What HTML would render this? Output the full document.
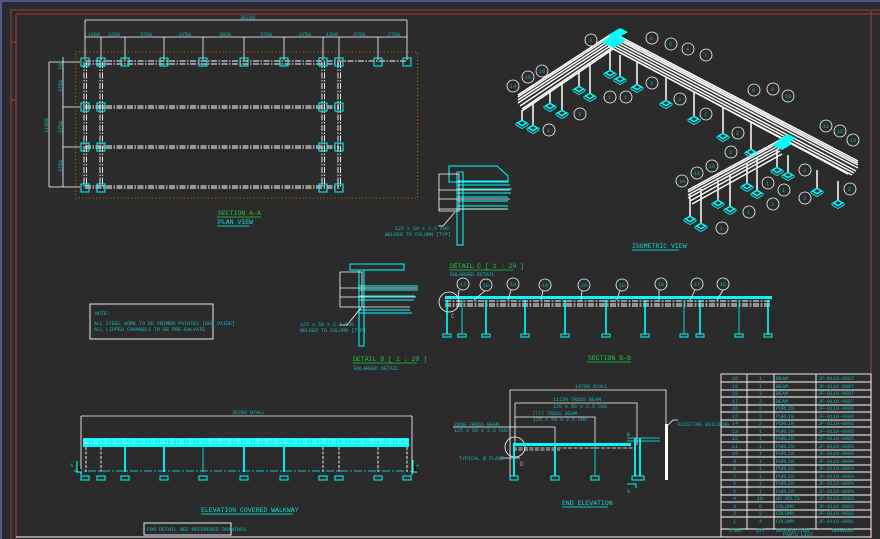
<!DOCTYPE html>
<html><head><meta charset="utf-8"><style>
html,body{margin:0;padding:0;background:#2b2b2b;}
svg{display:block}
text{font-family:"Liberation Mono",monospace;}
.t{fill:#16b8b8;font-size:5px}
.g{fill:#22cc44;font-size:6.5px}
.c{fill:#16d8d8;font-size:6.5px}
</style></head><body>
<svg width="880" height="539" viewBox="0 0 880 539" xmlns="http://www.w3.org/2000/svg">
<defs>
<g id="ft"><path d="M-6 0L0-3.5L6 0L0 3.5Z" fill="#0ff"/><path d="M-6 2L0 5.5L6 2M-6 0V2M6 0V2" stroke="#0ff" stroke-width="0.9" fill="none"/><path d="M-3 0L0-1.7L3 0L0 1.7Z" fill="#2b2b2b"/></g>
</defs>
<rect width="880" height="539" fill="#2b2b2b"/>
<rect x="0" y="0" width="880" height="2" fill="#4a5a8a"/>
<rect x="0" y="0" width="2" height="539" fill="#4a5a8a"/>
<g stroke="#8a3c3c" stroke-width="1.3" fill="none">
<line x1="10" y1="10" x2="880" y2="10"/><line x1="16" y1="14" x2="880" y2="14"/>
<line x1="11" y1="10" x2="11" y2="539"/><line x1="16" y1="14" x2="16" y2="539"/>
<line x1="871" y1="10" x2="871" y2="539"/>
<line x1="11" y1="42" x2="16" y2="42"/><line x1="11" y1="100" x2="16" y2="100"/>
</g>
<line x1="16" y1="537" x2="871" y2="537" stroke="#fff" stroke-width="1"/>

<!-- PLAN VIEW -->
<g stroke="#fff" stroke-width="0.8" fill="none">
<line x1="85" y1="20" x2="407" y2="20"/><line x1="85" y1="20" x2="85" y2="60"/><line x1="407" y1="20" x2="407" y2="60"/>
<line x1="85" y1="37" x2="407" y2="37"/>
<path d="M101 37V60M125 37V60M164 37V60M203 37V60M244 37V60M284 37V60M323 37V60M339 37V60M378 37V60"/>
<line x1="49" y1="62" x2="49" y2="187"/><line x1="63" y1="57" x2="63" y2="187"/>
<path d="M49 62H80M49 187H80M63 107H80M63 147H80"/>
</g>
<rect x="75.7" y="52" width="342" height="146" fill="none" stroke="#e08a20" stroke-width="0.8" stroke-dasharray="1 2.5"/>
<g stroke="#fff" stroke-width="0.9" fill="none" stroke-dasharray="6 1.5 1.5 1.5">
<path d="M85 61H407M85 64H339M85 106H339M85 108H339M85 146H339M85 148H339M85 186H339M85 188H339"/>
<path d="M84 62V187M86.5 62V187M100 62V187M102.5 62V187M322 62V187M324.5 62V187M338 62V187M340.5 62V187"/>
</g>
<g stroke="#0ff" stroke-width="1" fill="none">
<rect x="81" y="58" width="8" height="8"/><rect x="97" y="58" width="8" height="8"/><rect x="121" y="58" width="8" height="8"/><rect x="160" y="58" width="8" height="8"/><rect x="199" y="58" width="8" height="8"/><rect x="240" y="58" width="8" height="8"/><rect x="280" y="58" width="8" height="8"/><rect x="319" y="58" width="8" height="8"/><rect x="335" y="58" width="8" height="8"/><rect x="374" y="58" width="8" height="8"/><rect x="403" y="58" width="8" height="8"/>
<rect x="81" y="103" width="8" height="8"/><rect x="97" y="103" width="8" height="8"/><rect x="319" y="103" width="8" height="8"/><rect x="335" y="103" width="8" height="8"/>
<rect x="81" y="143" width="8" height="8"/><rect x="97" y="143" width="8" height="8"/><rect x="319" y="143" width="8" height="8"/><rect x="335" y="143" width="8" height="8"/>
<rect x="81" y="184" width="8" height="8"/><rect x="97" y="184" width="8" height="8"/><rect x="319" y="184" width="8" height="8"/><rect x="335" y="184" width="8" height="8"/>
</g>
<g class="t">
<text x="240" y="19">36700</text>
<text x="88" y="36">1500</text><text x="108" y="36">2250</text><text x="140" y="36">3750</text><text x="179" y="36">3750</text><text x="219" y="36">3950</text><text x="260" y="36">3750</text><text x="299" y="36">3750</text><text x="326" y="36">1500</text><text x="353" y="36">3750</text><text x="388" y="36">2750</text>
<text transform="translate(62,70) rotate(-90)">700</text><text transform="translate(62,92) rotate(-90)">3750</text><text transform="translate(62,133) rotate(-90)">3750</text><text transform="translate(62,172) rotate(-90)">3750</text><text transform="translate(48,133) rotate(-90)">11950</text>
</g>
<text x="218" y="215" class="g">SECTION A-A</text><line x1="217" y1="217" x2="261" y2="217" stroke="#22cc44" stroke-width="0.8"/>
<text x="218" y="224" class="c">PLAN VIEW</text><line x1="217" y1="226" x2="249" y2="226" stroke="#0ff" stroke-width="0.8"/>

<!-- ISOMETRIC -->
<g stroke="#fff" stroke-width="1.5" fill="none">
<path d="M613 33L858 161M613 35L858 163M613 37L858 165M613 40L858 168M613 43L856 171M613 46L854 173M613 49L852 175M608 46L848 174"/>
<path d="M613 33L518 95M613 35L518 97M613 38L518 100M613 41L518 103M613 44L520 106M613 47L522 109M613 49L522 111"/>
<path d="M780 140L688 190M780 142L688 192M780 145L688 195M780 148L688 198M780 151L690 201M782 154L692 204"/>
<path d="M610 50V73M620 55V79M637 62V87M666 78V103M694 92V119M723 107V136M751 121V152M579 70V89M590 64V96M550 90V106M562 82V113M522 110V123M533 103V128M777 150V170M788 155V175M817 170V191M838 181V203M747 163V186M757 158V193M718 180V203M730 174V209M690 195V219M701 189V226"/>
</g>
<g>
<use href="#ft" x="610" y="73"/><use href="#ft" x="620" y="79"/><use href="#ft" x="637" y="87"/><use href="#ft" x="666" y="103"/><use href="#ft" x="694" y="119"/><use href="#ft" x="723" y="136"/><use href="#ft" x="751" y="152"/><use href="#ft" x="579" y="89"/><use href="#ft" x="590" y="96"/><use href="#ft" x="550" y="106"/><use href="#ft" x="562" y="113"/><use href="#ft" x="522" y="123"/><use href="#ft" x="533" y="128"/><use href="#ft" x="777" y="170"/><use href="#ft" x="788" y="175"/><use href="#ft" x="817" y="191"/><use href="#ft" x="838" y="203"/><use href="#ft" x="747" y="186"/><use href="#ft" x="757" y="193"/><use href="#ft" x="718" y="203"/><use href="#ft" x="730" y="209"/><use href="#ft" x="690" y="219"/><use href="#ft" x="701" y="226"/>
</g>
<g fill="#0ff">
<path d="M602 42l12-8l12 6l-12 8z"/><path d="M608 35l12-7l8 4l-12 7z"/><path d="M772 145l10-6l10 5l-10 6z"/><path d="M778 140l10-6l8 4l-10 6z"/>
</g>
<g stroke="#fff" stroke-width="0.8" fill="#2b2b2b">
<circle cx="591" cy="40" r="6"/><circle cx="652" cy="38" r="6"/><circle cx="671" cy="44" r="6"/><circle cx="688" cy="49" r="6"/><circle cx="706" cy="55" r="6"/><circle cx="652" cy="83" r="6"/><circle cx="626" cy="97" r="6"/><circle cx="610" cy="97" r="6"/><circle cx="580" cy="114" r="6"/><circle cx="549" cy="130" r="6"/><circle cx="542" cy="71" r="6"/><circle cx="528" cy="77" r="6"/><circle cx="513" cy="86" r="6"/><circle cx="680" cy="99" r="6"/><circle cx="706" cy="114" r="6"/><circle cx="738" cy="133" r="6"/><circle cx="731" cy="152" r="6"/><circle cx="754" cy="90" r="6"/><circle cx="773" cy="89" r="6"/><circle cx="788" cy="96" r="6"/><circle cx="826" cy="126" r="6"/><circle cx="840" cy="131" r="6"/><circle cx="853" cy="140" r="6"/><circle cx="805" cy="170" r="6"/><circle cx="784" cy="190" r="6"/><circle cx="768" cy="183" r="6"/><circle cx="805" cy="198" r="6"/><circle cx="850" cy="189" r="6"/><circle cx="773" cy="204" r="6"/><circle cx="749" cy="212" r="6"/><circle cx="722" cy="228" r="6"/><circle cx="712" cy="166" r="6"/><circle cx="697" cy="173" r="6"/><circle cx="682" cy="181" r="6"/>
</g>
<g class="t" font-size="4"><text x="589" y="42">3</text><text x="650" y="40">6</text><text x="669" y="46">5</text><text x="686" y="51">4</text><text x="704" y="57">7</text><text x="650" y="85">3</text><text x="624" y="99">1</text><text x="608" y="99">1</text><text x="578" y="116">3</text><text x="547" y="132">1</text><text x="539" y="73">16</text><text x="525" y="79">15</text><text x="510" y="88">14</text><text x="678" y="101">3</text><text x="704" y="116">2</text><text x="736" y="135">2</text><text x="729" y="154">3</text><text x="752" y="92">8</text><text x="771" y="91">9</text><text x="785" y="98">10</text><text x="823" y="128">11</text><text x="837" y="133">12</text><text x="850" y="142">13</text><text x="803" y="172">3</text><text x="782" y="192">1</text><text x="766" y="185">1</text><text x="803" y="200">3</text><text x="848" y="191">2</text><text x="771" y="206">3</text><text x="747" y="214">1</text><text x="720" y="230">1</text><text x="709" y="168">16</text><text x="694" y="175">15</text><text x="679" y="183">14</text></g>
<text x="632" y="248" class="c">ISOMETRIC VIEW</text><line x1="632" y1="250" x2="679" y2="250" stroke="#0ff" stroke-width="0.8"/>

<!-- upper detail -->
<g stroke="#0ff" stroke-width="1" fill="none">
<path d="M449 166H497L508 176V182H449Z"/>
<path d="M457 181H508M457 185H510M457 189H512M457 193H511M457 197H508M457 201H508M457 206H508M457 209H507"/>
<rect x="457" y="172" width="6" height="73"/>
</g>
<g stroke="#fff" stroke-width="0.8" fill="none">
<path d="M439 174H459V211H439ZM439 190H510M439 199H510M439 209H508"/>
<path d="M455 212L443 226H438"/>
</g>
<g class="t"><text x="395" y="230">125 x 50 x 2.5 CHS</text><text x="385" y="236">WELDED TO COLUMN [TYP]</text></g>

<!-- detail D -->
<g stroke="#0ff" stroke-width="1" fill="none">
<path d="M350 264H404V270H350ZM359 286H418M359 290H418M359 296H415M359 300H414M359 310H410M359 313H412"/>
<rect x="359" y="270" width="5" height="76"/>
</g>
<g stroke="#fff" stroke-width="0.8" fill="none">
<path d="M340 272H362V307H340ZM340 288H418M340 297H416M340 307H410M361 308L347 325H340"/>
</g>
<g class="t"><text x="300" y="326">125 x 50 x 2.5 CHS</text><text x="300" y="332">WELDED TO COLUMN [TYP]</text></g>
<text x="353" y="361" class="g">DETAIL D [ 1 : 20 ]</text><line x1="353" y1="363" x2="417" y2="363" stroke="#22cc44" stroke-width="0.8"/>
<text x="354" y="370" class="t">ENLARGED DETAIL</text>

<!-- NOTE -->
<rect x="90" y="304" width="123" height="35" fill="none" stroke="#fff" stroke-width="0.9"/>
<text x="95" y="315" class="t" font-size="5.5">NOTE:</text>
<text x="94" y="325" class="t" font-size="4.5">ALL STEEL WORK TO BE PRIMER PAINTED [RED OXIDE]</text>
<text x="94" y="331" class="t" font-size="4.5">ALL LIPPED CHANNELS TO BE PRE-GALVATE</text>

<!-- SECTION B-B -->
<text x="450" y="268" class="g">DETAIL C [ 1 : 20 ]</text><line x1="449" y1="270" x2="513" y2="270" stroke="#22cc44" stroke-width="0.8"/>
<text x="450" y="276" class="t">ENLARGED DETAIL</text>
<rect x="445" y="296" width="327" height="3" fill="#0ff"/>
<g stroke="#fff" stroke-width="1" fill="none" stroke-dasharray="6 1.5 2 1.5"><path d="M445 301H770M445 304H770M445 306H770"/></g>
<g stroke="#0ff" stroke-width="1.6"><path d="M447 300V334M486 300V334M525 300V334M565 300V334M606 300V334M645 300V334M700 300V334M768 300V334"/></g>
<g stroke="#0ff" stroke-width="0.8"><path d="M462 300V334M684 300V334M739 300V334"/></g>
<g fill="none" stroke="#0ff" stroke-width="1"><rect x="443" y="334" width="8" height="3"/><rect x="458" y="334" width="8" height="3"/><rect x="482" y="334" width="8" height="3"/><rect x="521" y="334" width="8" height="3"/><rect x="561" y="334" width="8" height="3"/><rect x="602" y="334" width="8" height="3"/><rect x="641" y="334" width="8" height="3"/><rect x="680" y="334" width="8" height="3"/><rect x="696" y="334" width="8" height="3"/><rect x="735" y="334" width="8" height="3"/><rect x="764" y="334" width="8" height="3"/></g>
<g stroke="#fff" stroke-width="0.8" fill="#2b2b2b">
<circle cx="449" cy="302" r="10" fill="none"/>
<path d="M459 290L458 298M486 290L474 300M511 290L508 300M543 290L541 300M582 290L581 300M620 290L617 300M659 290L659 300M695 290L690 300M723 290L717 300" fill="none"/>
<circle cx="463" cy="284" r="6"/><circle cx="486" cy="285" r="6"/><circle cx="513" cy="284" r="6"/><circle cx="545" cy="285" r="6"/><circle cx="584" cy="285" r="6"/><circle cx="622" cy="285" r="6"/><circle cx="661" cy="284" r="6"/><circle cx="697" cy="284" r="6"/><circle cx="723" cy="284" r="6"/>
</g>
<g class="t" font-size="4"><text x="460" y="286">17</text><text x="483" y="287">18</text><text x="510" y="286">18</text><text x="542" y="287">19</text><text x="581" y="287">20</text><text x="619" y="287">19</text><text x="658" y="286">18</text><text x="694" y="286">17</text><text x="720" y="286">16</text></g>
<text x="451" y="318" fill="#aaa" font-size="6" font-family="Liberation Mono">C</text>
<text x="588" y="360" class="g">SECTION B-B</text><line x1="587" y1="362" x2="631" y2="362" stroke="#22cc44" stroke-width="0.8"/>

<!-- ELEVATION -->
<g stroke="#fff" stroke-width="0.8" fill="none"><path d="M81 416H412M81 416V475M412 416V475"/></g>
<text x="232" y="414" class="t">36700 O/ALL</text>
<rect x="83" y="438" width="326" height="9" fill="#0ff"/>
<g stroke="#fff" stroke-width="0.7" fill="none" stroke-dasharray="5 1.5 1.5 1.5"><path d="M84 440H408M84 443H408"/></g>
<g stroke="#0ff" stroke-width="1.8"><path d="M125 447V472M164 447V472M244 447V472M284 447V472"/></g>
<g stroke="#0ff" stroke-width="0.8"><path d="M203 447V472"/></g>
<g stroke="#fff" stroke-width="0.9" stroke-dasharray="3 1.5"><path d="M86 447V472M101 447V472M323 447V472M339 447V472M378 447V472M407 447V472"/></g>
<g stroke="#0ff" stroke-width="0.8" stroke-dasharray="8 2 2 2"><path d="M74 471H412"/></g>
<g fill="none" stroke="#0ff" stroke-width="1"><rect x="81" y="476" width="8" height="4"/><rect x="97" y="476" width="8" height="4"/><rect x="121" y="476" width="8" height="4"/><rect x="160" y="476" width="8" height="4"/><rect x="199" y="476" width="8" height="4"/><rect x="240" y="476" width="8" height="4"/><rect x="280" y="476" width="8" height="4"/><rect x="319" y="476" width="8" height="4"/><rect x="335" y="476" width="8" height="4"/><rect x="374" y="476" width="8" height="4"/><rect x="403" y="476" width="8" height="4"/></g>
<g stroke="#0ff" stroke-width="1.2"><path d="M77 461V472H82M413 460V472H417"/></g>
<text x="70" y="467" class="t" font-size="6">A</text><text x="416" y="467" class="t" font-size="6">A</text>
<text x="201" y="512" class="c">ELEVATION COVERED WALKWAY</text><line x1="201" y1="514" x2="293" y2="514" stroke="#0ff" stroke-width="0.8"/>
<rect x="144" y="523" width="87" height="12" fill="none" stroke="#fff" stroke-width="0.9"/>
<text x="147" y="531" class="t" font-size="4.5">FOR DETAIL REF REFERENCE DRAWINGS</text>

<!-- END ELEVATION -->
<g stroke="#fff" stroke-width="0.8" fill="none">
<path d="M510 390H666V477M510 390V477M515 403H637V445M515 403V445M515 417H595V445M453 427H555V450"/>
<path d="M500 458H520"/><circle cx="515" cy="447" r="10"/>
</g>
<g class="t"><text x="575" y="388">14700 O/ALL</text><text x="553" y="401">11150 TRUSS BEAM</text><text x="553" y="408">125 x 50 x 2.5 CHS</text><text x="532" y="415">7777 TRUSS BEAM</text><text x="533" y="421">125 x 50 x 2.5 CHS</text><text x="454" y="426">2850 TRUSS BEAM</text><text x="454" y="432">125 x 50 x 2.5 CHS</text><text x="459" y="460">TYPICAL @ PLACE</text><text x="678" y="426">EXISTING BUILDING</text></g>
<rect x="513" y="443" width="118" height="3" fill="#0ff"/>
<g stroke="#fff" stroke-width="0.7" stroke-dasharray="4 1.5"><path d="M513 448H636M513 450H560"/></g>
<g stroke="#0ff" stroke-width="1.8"><path d="M514 446V476M555 446V476M635 438V476M640 438V476"/></g>
<g stroke="#0ff" stroke-width="0.8"><path d="M595 446V476M627 438H660M627 441H660"/></g>
<rect x="665" y="424" width="3" height="56" fill="#fff"/>
<path d="M668 425L673 420H678" stroke="#fff" stroke-width="0.8" fill="none"/>
<g fill="none" stroke="#0ff" stroke-width="1"><rect x="510" y="476" width="8" height="4"/><rect x="551" y="476" width="8" height="4"/><rect x="591" y="476" width="8" height="4"/><rect x="632" y="476" width="12" height="4"/></g>
<path d="M627 484H636V488" stroke="#0ff" stroke-width="1" fill="none"/>
<text x="627" y="436" class="t" font-size="6">B</text><text x="627" y="493" class="t" font-size="6">B</text>
<text x="520" y="466" fill="#aaa" font-size="6" font-family="Liberation Mono">D</text>
<text x="562" y="505" class="c">END ELEVATION</text><line x1="562" y1="507" x2="608" y2="507" stroke="#0ff" stroke-width="0.8"/>

<!-- TABLE -->
<g stroke="#fff" stroke-width="0.9" fill="none">
<rect x="721" y="374" width="150" height="163"/>
<path d="M747 374V529M774 374V529M816 374V529"/>
<path d="M721 382H871M721 390H871M721 397H871M721 405H871M721 412H871M721 420H871M721 427H871M721 435H871M721 442H871M721 450H871M721 457H871M721 465H871M721 472H871M721 480H871M721 487H871M721 495H871M721 502H871M721 510H871M721 517H871M721 529H871"/>
</g>
<g class="t" font-size="4.3">
<text x="732" y="380">20</text><text x="759" y="380">1</text><text x="776" y="380">BEAM</text><text x="818" y="380">JF-0110-0007</text>
<text x="732" y="388">19</text><text x="759" y="388">1</text><text x="776" y="388">BEAM</text><text x="818" y="388">JF-0110-0007</text>
<text x="732" y="395">18</text><text x="759" y="395">3</text><text x="776" y="395">BEAM</text><text x="818" y="395">JF-0110-0007</text>
<text x="732" y="403">17</text><text x="759" y="403">2</text><text x="776" y="403">BEAM</text><text x="818" y="403">JF-0110-0007</text>
<text x="732" y="410">16</text><text x="759" y="410">2</text><text x="776" y="410">PURLIN</text><text x="818" y="410">JF-0110-0006</text>
<text x="732" y="418">15</text><text x="759" y="418">2</text><text x="776" y="418">PURLIN</text><text x="818" y="418">JF-0110-0006</text>
<text x="732" y="425">14</text><text x="759" y="425">2</text><text x="776" y="425">PURLIN</text><text x="818" y="425">JF-0110-0006</text>
<text x="732" y="433">13</text><text x="759" y="433">1</text><text x="776" y="433">PURLIN</text><text x="818" y="433">JF-0110-0005</text>
<text x="732" y="440">12</text><text x="759" y="440">1</text><text x="776" y="440">PURLIN</text><text x="818" y="440">JF-0110-0005</text>
<text x="732" y="448">11</text><text x="759" y="448">1</text><text x="776" y="448">PURLIN</text><text x="818" y="448">JF-0110-0005</text>
<text x="732" y="455">10</text><text x="759" y="455">1</text><text x="776" y="455">PURLIN</text><text x="818" y="455">JF-0110-0005</text>
<text x="733" y="463">9</text><text x="759" y="463">1</text><text x="776" y="463">PURLIN</text><text x="818" y="463">JF-0110-0004</text>
<text x="733" y="470">8</text><text x="759" y="470">1</text><text x="776" y="470">PURLIN</text><text x="818" y="470">JF-0110-0004</text>
<text x="733" y="478">7</text><text x="759" y="478">1</text><text x="776" y="478">PURLIN</text><text x="818" y="478">JF-0110-0004</text>
<text x="733" y="485">6</text><text x="759" y="485">1</text><text x="776" y="485">PURLIN</text><text x="818" y="485">JF-0110-0004</text>
<text x="733" y="493">5</text><text x="759" y="493">1</text><text x="776" y="493">PURLIN</text><text x="818" y="493">JF-0110-0004</text>
<text x="733" y="500">4</text><text x="757" y="500">10</text><text x="776" y="500">HD BOLTS</text><text x="818" y="500">JF-0110-0003</text>
<text x="733" y="508">3</text><text x="759" y="508">6</text><text x="776" y="508">COLUMN</text><text x="818" y="508">JF-0110-0003</text>
<text x="733" y="515">2</text><text x="759" y="515">2</text><text x="776" y="515">COLUMN</text><text x="818" y="515">JF-0110-0002</text>
<text x="733" y="523">1</text><text x="759" y="523">4</text><text x="776" y="523">COLUMN</text><text x="818" y="523">JF-0110-0001</text>
<text x="729" y="532">ITEM</text><text x="756" y="532">QTY</text><text x="776" y="532">DESCRIPTION</text><text x="832" y="532">DRAWING</text>
<text x="783" y="536">PARTS LIST</text>
</g>
</svg>
</body></html>
